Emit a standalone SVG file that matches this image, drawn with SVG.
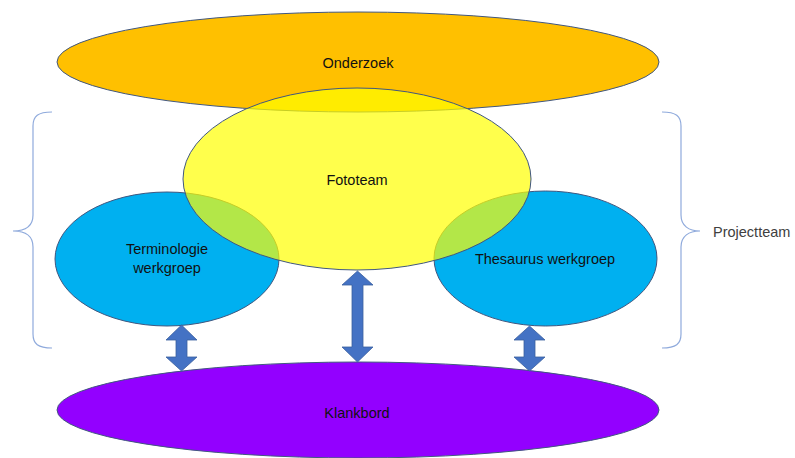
<svg xmlns="http://www.w3.org/2000/svg" width="795" height="458" viewBox="0 0 795 458">
<style>
.n{stroke:#41577f;stroke-width:1}
.t{font-family:"Liberation Sans",Arial,sans-serif;font-size:14.5px;fill:#111;text-anchor:middle}
.b{fill:none;stroke:#8faadc;stroke-width:1.2}
.a{fill:#4472c4;stroke:#3b5f9e;stroke-width:0.8}
</style>
<rect width="795" height="458" fill="#fff"/>
<g id="onderzoek">
<ellipse class="n" cx="358" cy="62" rx="301" ry="50" fill="#ffc000"/>
<text class="t" x="358" y="68">Onderzoek</text>
</g>
<g id="klankbord">
<ellipse class="n" cx="358" cy="410" rx="301" ry="48" fill="#9300ff"/>
<text class="t" x="357" y="418">Klankbord</text>
</g>
<g id="terminologie">
<ellipse class="n" cx="167" cy="259" rx="112" ry="67" fill="#00b0f0"/>
<text class="t" x="167" y="254">Terminologie</text>
<text class="t" x="167" y="273">werkgroep</text>
</g>
<g id="thesaurus">
<ellipse class="n" cx="545.5" cy="258.5" rx="111.5" ry="67.5" fill="#00b0f0"/>
<text class="t" x="545" y="264">Thesaurus werkgroep</text>
</g>
<g id="fototeam">
<ellipse class="n" cx="357" cy="179" rx="174" ry="91" fill="#ffff00" fill-opacity="0.7"/>
<text class="t" x="357" y="185">Fototeam</text>
</g>
<g id="projectteam">
<path class="b" d="M52,112 C38,112 33,116 33,126 L33,215 C33,226 25,231 13,231 C25,231 33,236 33,247 L33,334 C33,344 38,348 52,348"/>
<path class="b" d="M662,112 C676,112 681,116 681,126 L681,215 C681,226 689,231 700,231 C689,231 681,236 681,247 L681,334 C681,344 676,348 662,348"/>
<text x="713" y="237" style="font-family:'Liberation Sans',Arial,sans-serif;font-size:14.5px;fill:#404040">Projectteam</text>
</g>
<g id="connectors">
<path class="a" d="M181.5,325 L197,340 L187,340 L187,357 L197,357 L181.5,371 L166,357 L176,357 L176,340 L166,340 Z"/>
<path class="a" d="M357.5,271 L373,285 L363,285 L363,347 L373,347 L357.5,362 L342,347 L352,347 L352,285 L342,285 Z"/>
<path class="a" d="M529.5,326 L545,340 L535,340 L535,357 L545,357 L529.5,371 L514,357 L524,357 L524,340 L514,340 Z"/>
</g>
</svg>
